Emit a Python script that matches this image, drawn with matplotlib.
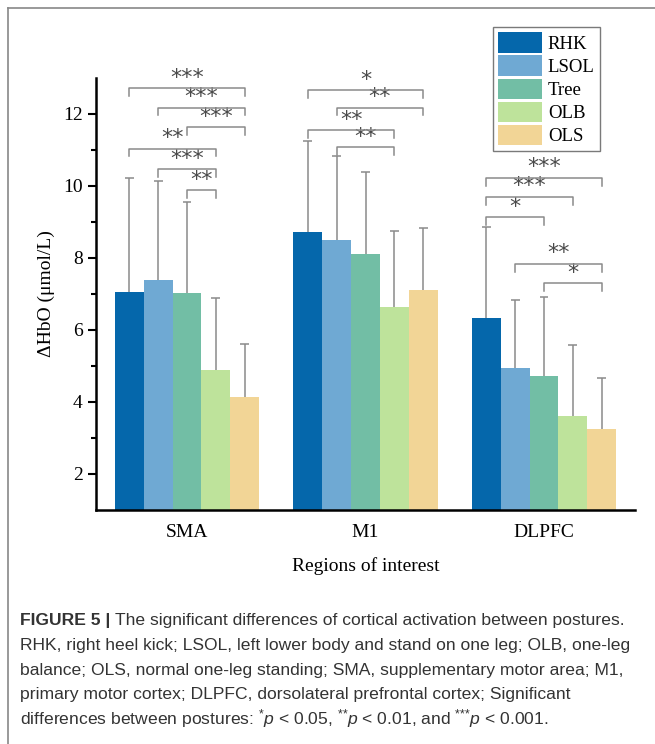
import numpy as np
import matplotlib
matplotlib.use("Agg")
from matplotlib import pyplot as plt
from matplotlib.lines import Line2D

plt.rcParams['mathtext.fontset'] = 'custom'
plt.rcParams['mathtext.rm'] = 'Liberation Sans'
plt.rcParams['mathtext.it'] = 'Liberation Sans:italic'

regions = ['SMA', 'M1', 'DLPFC']
postures = ['RHK', 'LSOL', 'Tree', 'OLB', 'OLS']
colors = ['#0567ab', '#6fa9d3', '#72bea5', '#bee39b', '#f2d596']

# mean per posture, one value per region
rhk = [7.05, 8.72, 6.33]
lsol = [7.40, 8.49, 4.94]
tree = [7.02, 8.12, 4.72]
olb = [4.89, 6.65, 3.61]
ols = [4.14, 7.11, 3.25]
means = [rhk, lsol, tree, olb, ols]

# upper error (SD)
rhk_sd = [3.18, 2.54, 2.54]
lsol_sd = [2.74, 2.35, 1.88]
tree_sd = [2.53, 2.27, 2.21]
olb_sd = [2.00, 2.11, 1.96]
ols_sd = [1.48, 1.71, 1.43]
sds = [rhk_sd, lsol_sd, tree_sd, olb_sd, ols_sd]

# significance: region, bar a, bar b, height, stars
sig_region = [0, 0, 0, 0, 0, 0, 1, 1, 1, 1, 2, 2, 2, 2, 2]
sig_a = [0, 1, 2, 0, 1, 2, 0, 1, 0, 1, 0, 0, 0, 1, 2]
sig_b = [4, 4, 4, 3, 3, 3, 4, 4, 3, 3, 4, 3, 2, 4, 4]
sig_y = [12.71, 12.18, 11.64, 11.04, 10.47, 9.88,
         12.67, 12.18, 11.55, 11.07,
         10.23, 9.70, 9.13, 7.84, 7.30]
sig_txt = ['***', '***', '***', '**', '***', '**',
           '*', '**', '**', '**',
           '***', '***', '*', '**', '*']

serif = 'Liberation Serif'
gray = '#8a8a8a'

fig = plt.figure(figsize=(6.55, 7.44), dpi=100)
ax = fig.add_axes([96/655, 1-510/744, 539/655, 432/744])

x = np.arange(len(regions))
w = 0.162
for i in range(len(postures)):
    pos = x + (i - 2) * w
    m = np.array(means[i])
    top = m + np.array(sds[i])
    ax.bar(pos, m, w, color=colors[i], label=postures[i], zorder=2)
    # upper-only error bars
    ax.vlines(pos, m, top, color=gray, lw=1.1, zorder=3)
    ax.hlines(top, pos - 0.025, pos + 0.025, color=gray, lw=1.1, zorder=3)

for k in range(len(sig_y)):
    xa = sig_region[k] + (sig_a[k] - 2) * w
    xb = sig_region[k] + (sig_b[k] - 2) * w
    y = sig_y[k]
    ax.plot([xa, xa, xb, xb], [y - 0.22, y, y, y - 0.22], color=gray, lw=1.1, zorder=4)
    ax.text((xa + xb) / 2, y + 0.01, sig_txt[k], ha='center', va='bottom',
            fontsize=16, color='#4a4a4a', family='DejaVu Sans')

ax.set_xlim(-0.51, 2.51)
ax.set_ylim(1, 13)
ax.set_yticks([2, 4, 6, 8, 10, 12])
ax.set_yticks([3, 5, 7, 9, 11], minor=True)
ax.set_xticks(x)
ax.set_xticklabels(regions, family=serif, fontsize=14)
ax.tick_params(axis='x', length=0, pad=10)
ax.tick_params(axis='y', which='major', length=6, width=1.5, direction='out', labelsize=14)
ax.tick_params(axis='y', which='minor', length=3.5, width=1.5, direction='out')
for t in ax.get_yticklabels():
    t.set_family(serif)
ax.spines['top'].set_visible(False)
ax.spines['right'].set_visible(False)
ax.spines['left'].set_linewidth(1.8)
ax.spines['bottom'].set_linewidth(1.8)
ax.set_ylabel('ΔHbO (μmol/L)', family=serif, fontsize=14, labelpad=6)
ax.set_xlabel('Regions of interest', family=serif, fontsize=14, labelpad=12)

leg = ax.legend(loc='upper left', bbox_to_anchor=(493/655, 1-27/744),
                bbox_transform=fig.transFigure, borderaxespad=0,
                prop={'family': serif, 'size': 13.5}, handlelength=2.35,
                handleheight=1.3, labelspacing=0.14, handletextpad=0.3,
                borderpad=0.28, fancybox=False, framealpha=1)
leg.get_frame().set_edgecolor('#7a7a7a')
leg.get_frame().set_linewidth(1)

# outer frame
fig.add_artist(Line2D([8/655, 8/655], [0, 1-8/744], color='#888888', lw=1.2, transform=fig.transFigure))
fig.add_artist(Line2D([8/655, 1], [1-8/744, 1-8/744], color='#888888', lw=1.2, transform=fig.transFigure))

# caption
cap_fs = 12.6
sans = 'Liberation Sans'
lines = [
    'RHK, right heel kick; LSOL, left lower body and stand on one leg; OLB, one-leg',
    'balance; OLS, normal one-leg standing; SMA, supplementary motor area; M1,',
    'primary motor cortex; DLPFC, dorsolateral prefrontal cortex; Significant',
    r'differences between postures: $^{{*}}\it{p}$ < 0.05, $^{{*}{*}}\it{p}$ < 0.01, and $^{{*}{*}{*}}\it{p}$ < 0.001.',
]
y0 = 1 - 621/744
t1 = fig.text(20/655, y0, 'FIGURE 5 | ', family=sans, weight='bold', fontsize=cap_fs,
              color='#333333', va='center')
r = fig.canvas.get_renderer()
bb = t1.get_window_extent(renderer=r)
fig.text(bb.x1 / fig.bbox.width, y0, 'The significant differences of cortical activation between postures.',
         family=sans, fontsize=cap_fs, color='#333333', va='center')
for i, s in enumerate(lines):
    fig.text(20/655, y0 - (i + 1) * 24.5/744, s, family=sans, fontsize=cap_fs,
             color='#333333', va='center')

fig.savefig('out.png', dpi=100)
